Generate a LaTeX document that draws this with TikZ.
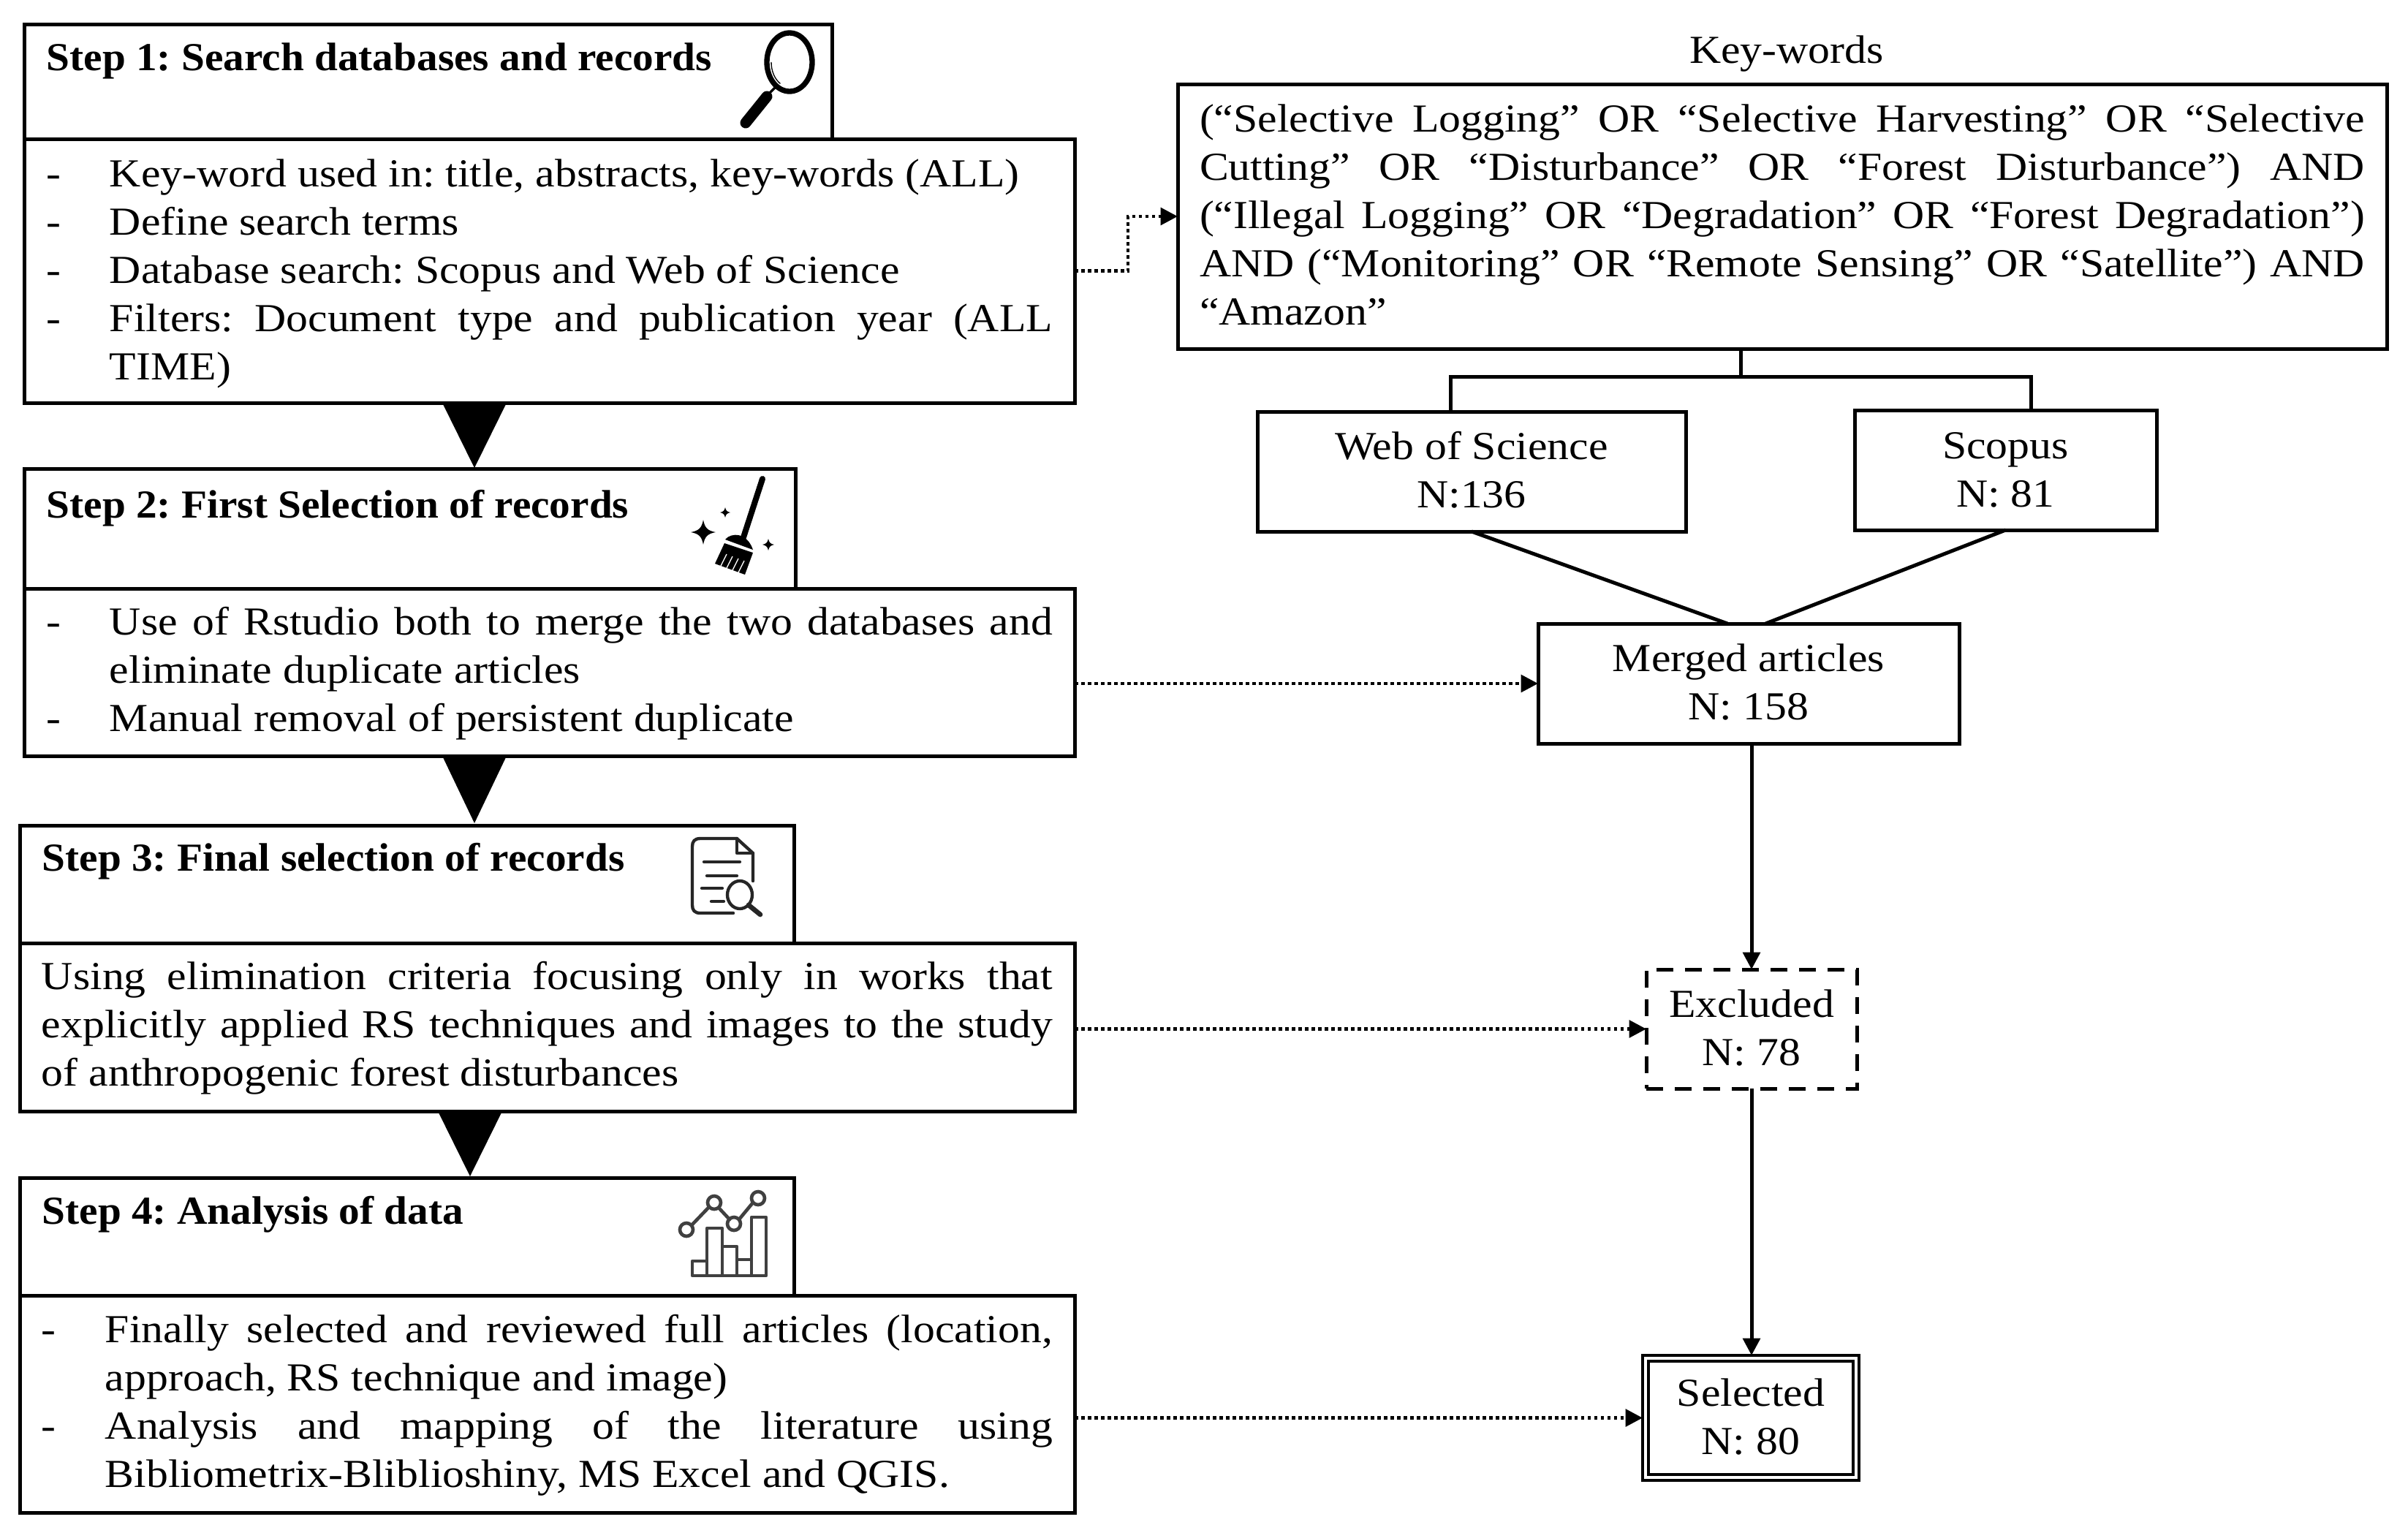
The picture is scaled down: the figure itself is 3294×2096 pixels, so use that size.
\documentclass[tikz,border=0pt]{standalone}
\usepackage{fontspec}
\setmainfont[FakeStretch=1.1]{Liberation Serif}
\newfontfamily\titlefont[FakeStretch=1.055]{Liberation Serif}
\usetikzlibrary{arrows.meta}
\newcommand{\fs}{\fontsize{16.3}{19.8}\selectfont}
\newcommand{\fixsp}{\spaceskip=0pt \xspaceskip=0pt \frenchspacing}
\newlength{\dashcol}\setlength{\dashcol}{26.1pt}
\newcommand{\jl}[2]{\makebox[#1][s]{#2}}
\newcommand{\dsh}{\makebox[\dashcol][l]{-}}
\newcommand{\lift}{\rule[-1.3pt]{0pt}{1pt}}
\newcommand{\dropa}{\rule{0pt}{12.3pt}}
\newcommand{\dropb}{\rule{0pt}{13.6pt}}
\tikzset{
  bx/.style={draw=black,line width=1.5pt,rectangle,inner ysep=0pt,outer sep=0pt,font=\fs,text=black},
  bodybox/.style={bx,anchor=north west,inner xsep=9pt,align=left},
  headbox/.style={bx,anchor=north west,inner sep=0pt},
  title/.style={anchor=base west,inner sep=0pt,font=\fs\titlefont\bfseries,text=black},
  count/.style={bx,align=center,anchor=north west,inner sep=0pt},
  link/.style={draw=black,line width=1.5pt},
  flow/.style={draw=black,line width=1.5pt,-{Triangle[length=7pt,width=7pt]}},
  dotflow/.style={draw=black,line width=1.4pt,dash pattern=on 1.35pt off 1.35pt,-{Triangle[length=7pt,width=7pt,sep=0pt]}},
  dropt/.style={fill=black,draw=none},
  icon/.style={line cap=round,line join=round}
}
\begin{document}
\begin{tikzpicture}[x=0.3pt,y=-0.3pt]
\useasboundingbox (0,0) rectangle (3294,2096);
\fill[white] (0,0) rectangle (3294,2096);
% headers
\node[headbox,minimum width=331.5pt,minimum height=47.1pt] (s1h) at (33,33) {};
\node[headbox,minimum width=316.5pt,minimum height=49.2pt] (s2h) at (33,641) {};
\node[headbox,minimum width=317.7pt,minimum height=48.3pt] (s3h) at (27,1129) {};
\node[headbox,minimum width=317.7pt,minimum height=48.3pt] (s4h) at (27,1611) {};
\node[title] (s1t) at (63,96) {\fixsp Step 1: Search databases and records};
\node[title] (s2t) at (63,708) {\fixsp Step 2: First Selection of records};
\node[title] (s3t) at (57,1191) {\fixsp Step 3: Final selection of records};
\node[title] (s4t) at (57,1674) {\fixsp Step 4: Analysis of data};
% bodies
\node[bodybox,minimum width=431.1pt,minimum height=108.3pt,text width=413.1pt] (s1b) at (33,190) {\fixsp
\dropb\dsh Key-word used in: title, abstracts, key-words (ALL)\\
\dsh Define search terms\\
\dsh Database search: Scopus and Web of Science\\
\dsh\jl{387pt}{Filters: Document type and publication year (ALL}\\
\hspace*{\dashcol}TIME)};
\node[bodybox,minimum width=431.1pt,minimum height=68.7pt,text width=413.1pt] (s2b) at (33,805) {\fixsp
\dropa\dsh\jl{387pt}{Use of Rstudio both to merge the two databases and}\\
\hspace*{\dashcol}eliminate duplicate articles\\
\dsh Manual removal of persistent duplicate};
\node[bodybox,minimum width=432.9pt,minimum height=69pt,text width=414.9pt] (s3b) at (27,1290) {\fixsp
\dropa\jl{414.9pt}{Using elimination criteria focusing only in works that}\\
\jl{414.9pt}{explicitly applied RS techniques and images to the study}\\
of anthropogenic forest disturbances};
\node[bodybox,minimum width=432.9pt,minimum height=89.1pt,text width=414.9pt] (s4b) at (27,1772) {\fixsp
\dropa\dsh\jl{388.8pt}{Finally selected and reviewed full articles (location,}\\
\hspace*{\dashcol}approach, RS technique and image)\\
\dsh\jl{388.8pt}{Analysis and mapping of the literature using}\\
\hspace*{\dashcol}Bibliometrix-Bliblioshiny, MS Excel and QGIS.};
% drop triangles
\fill[dropt] (605,551) -- (693,551) -- (649,640) -- cycle;
\fill[dropt] (605,1034) -- (693,1034) -- (649,1126) -- cycle;
\fill[dropt] (599,1520) -- (687,1520) -- (643,1609) -- cycle;
% right column
\node[anchor=base,inner sep=0pt,font=\fs,text=black] (kwt) at (2444,86) {\fixsp Key-words};
\node[bodybox,minimum width=496.2pt,minimum height=108.6pt,text width=478.2pt] (kw) at (1611,115) {\fixsp
\jl{478.2pt}{(“Selective Logging” OR “Selective Harvesting” OR “Selective}\\
\jl{478.2pt}{Cutting” OR “Disturbance” OR “Forest Disturbance”) AND}\\
\jl{478.2pt}{(“Illegal Logging” OR “Degradation” OR “Forest Degradation”)}\\
\jl{478.2pt}{AND (“Monitoring” OR “Remote Sensing” OR “Satellite”) AND}\\
“Amazon”\lift};
\node[count,minimum width=175.8pt,minimum height=49.2pt] (wos) at (1720,563) {\fixsp Web of Science\\N:136\lift};
\node[count,minimum width=123.9pt,minimum height=49.2pt] (scopus) at (2537,561) {\fixsp Scopus\\N: 81};
\node[count,minimum width=172.8pt,minimum height=49.2pt] (merged) at (2104,853) {\fixsp Merged articles\\N: 158\lift};
\node[count,dash pattern=on 7pt off 4.7pt,minimum width=86.4pt,minimum height=48.9pt] (excl) at (2252,1326) {\fixsp Excluded\\N: 78\lift};
\node[count,line width=1pt,minimum width=88.8pt,minimum height=51.3pt] (sel) at (2247,1854) {\fixsp Selected\\N: 80\lift};
\draw[line width=1pt] ([shift={(2.4pt,2.4pt)}]sel.south west) rectangle ([shift={(-2.4pt,-2.4pt)}]sel.north east);
% tree
\coordinate (trunk) at (2381,515);
\coordinate (tl) at (1984,515);
\coordinate (tr) at (2778,515);
\draw[link] (trunk |- kw.south) -- (trunk);
\draw[link] (tl |- wos.north) -- (tl) -- (tr) -- (tr |- scopus.north);
\draw[link] (wos.south) -- ([xshift=-8.7pt]merged.north);
\draw[link] (scopus.south) -- ([xshift=7pt]merged.north);
\draw[flow] (excl.north |- merged.south) -- (excl.north);
\draw[flow] (excl.south) -- (excl.south |- sel.north);
% dotted
\coordinate (bend) at (1543,298);
\draw[dotflow] (s1b.east) -- (bend |- s1b.east) -- (bend |- kw.west) -- (kw.west);
\draw[dotflow] (s2b.east |- merged.west) -- (merged.west);
\draw[dotflow] (s3b.east |- excl.west) -- (excl.west);
\draw[dotflow] (s4b.east |- sel.west) -- (sel.west);
% magnifier icon
\draw[line width=2.2pt] (1080,85) ellipse [x radius=31,y radius=40];
\draw[line width=0.4pt] (1055,85) arc[start angle=180,end angle=120,x radius=25,y radius=34];
\draw[line width=1pt] (1060,120) -- (1050,130);
\draw[line width=4.5pt,line cap=round] (1049,132) -- (1020,168);
% broom icon
\draw[line width=2.4pt,icon] (1043,655) -- (1017,735);
\fill (992,738) .. controls (1000,728) and (1022,728) .. (1030,752) -- cycle;
\fill (991,743) -- (1030,756) -- (1019,786) -- (978,771) -- cycle;
\draw[white,line width=0.6pt] (990,741) -- (1031,754);
\foreach \xa/\ya/\xb/\yb in {994/758/986/774,1002/761/994/777,1010/764/1002/780,1018/767/1010/783}{
  \draw[white,line width=0.4pt] (\xa,\ya) -- (\xb,\yb);
}
\fill (962,711) .. controls (964,722) and (968,726) .. (979,728) .. controls (968,730) and (964,734) .. (962,745) .. controls (960,734) and (956,730) .. (945,728) .. controls (956,726) and (960,722) .. (962,711) -- cycle;
\fill (992,694) .. controls (993,699) and (995,700) .. (999,701) .. controls (995,702) and (993,703) .. (992,708) .. controls (991,703) and (989,702) .. (985,701) .. controls (989,700) and (991,699) .. (992,694) -- cycle;
\fill (1051,737) .. controls (1052,742) and (1054,744) .. (1059,745) .. controls (1054,746) and (1052,748) .. (1051,753) .. controls (1050,748) and (1048,746) .. (1043,745) .. controls (1048,744) and (1050,742) .. (1051,737) -- cycle;
% document icon
\begin{scope}[line width=1.3pt,icon,draw=black!85]
\draw (1030,1205) -- (1030,1167) -- (1008,1147) -- (958,1147) .. controls (950,1147) and (947,1151) .. (947,1158) -- (947,1238) .. controls (947,1245) and (950,1249) .. (958,1249) -- (1003,1249);
\draw (1008,1147) -- (1008,1167) -- (1030,1167);
\draw (963,1179) -- (1012,1179);
\draw (967,1198) -- (1008,1198);
\draw (960,1215) -- (988,1215);
\draw (973,1233) -- (990,1233);
\draw (1012,1224) ellipse [x radius=17,y radius=19];
\draw[line width=2pt] (1024,1238) -- (1040,1251);
\end{scope}
% chart icon
\begin{scope}[line width=1.4pt,icon,draw=black!75]
\draw (947,1725) rectangle (967,1745);
\draw (967,1680) rectangle (988,1745);
\draw (988,1705) rectangle (1008,1745);
\draw (1008,1723) rectangle (1028,1745);
\draw (1028,1665) rectangle (1048,1745);
\draw (939,1682) circle [radius=9];
\draw (977,1645) circle [radius=9];
\draw (1004,1674) circle [radius=9];
\draw (1037,1639) circle [radius=9];
\draw (946,1676) -- (970,1651);
\draw (983,1652) -- (998,1668);
\draw (1011,1668) -- (1030,1645);
\end{scope}
\end{tikzpicture}
\end{document}
